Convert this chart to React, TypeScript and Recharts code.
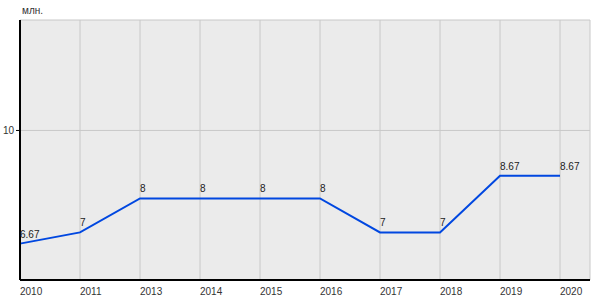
import { LineChart, Line, XAxis, YAxis, CartesianGrid, LabelList } from 'recharts';

// годы (2012 в исходных данных нет)
const years = ['2010', '2011', '2013', '2014', '2015', '2016', '2017', '2018', '2019', '2020'];
const values = [6.67, 7, 8, 8, 8, 8, 7, 7, 8.67, 8.67];
const yTicks = [10];

const data = years.map((year, i) => ({ year, value: values[i] }));

const font = 'Arial, "Liberation Sans", sans-serif';

const PointLabel = (props: any) => {
    const { x, y, value } = props;
    return (
        <text x={x} y={y - 6} fontSize={10} fontFamily={font} fill="#222" textAnchor="start">
            {value}
        </text>
    );
};

export default function App() {
    return (
        <div style={{ position: 'absolute', left: 0, top: 0, width: 600, height: 300, background: '#fff' }}>
            <div style={{ position: 'absolute', left: 22, top: 5, fontSize: 10, fontFamily: font, color: '#333' }}>
                млн.
            </div>
            <LineChart width={600} height={300} data={data} margin={{ top: 20, right: 10, left: 0, bottom: 0 }}>
                <CartesianGrid fill="#ebebeb" stroke="#c8c8c8" strokeWidth={1} />
                <XAxis
                    dataKey="year"
                    padding={{ left: 0, right: 30 }}
                    height={20}
                    tickLine={false}
                    axisLine={{ stroke: '#000', strokeWidth: 2 }}
                    tick={{ fontSize: 10, fontFamily: font, fill: '#333', textAnchor: 'start' }}
                    tickMargin={2}
                    interval={0}
                />
                <YAxis
                    width={20}
                    domain={[5.6, 13.25]}
                    ticks={yTicks}
                    tickSize={4}
                    tickLine={{ stroke: '#000' }}
                    axisLine={{ stroke: '#000', strokeWidth: 2 }}
                    tick={{ fontSize: 10, fontFamily: font, fill: '#333' }}
                    tickMargin={2}
                />
                <Line
                    type="linear"
                    dataKey="value"
                    stroke="#0047e0"
                    strokeWidth={2}
                    dot={false}
                    isAnimationActive={false}
                >
                    <LabelList dataKey="value" content={PointLabel} />
                </Line>
            </LineChart>
        </div>
    );
}
